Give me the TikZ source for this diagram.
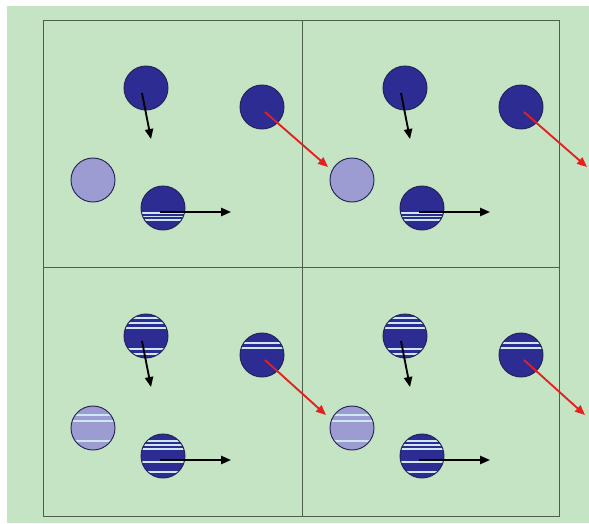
\documentclass[tikz,border=0pt]{standalone}
\usepackage{tikz}
\usepackage{xcolor}
\usetikzlibrary{arrows.meta}
\definecolor{fieldgreen}{RGB}{196,228,196}
\definecolor{gridgray}{RGB}{75,95,75}
\definecolor{ballblue}{RGB}{44,44,146}
\definecolor{ballpale}{RGB}{156,156,210}
\definecolor{balledge}{RGB}{35,35,85}
\definecolor{stripecol}{RGB}{205,232,242}
\definecolor{hitred}{RGB}{228,32,32}

\begin{document}
\begin{tikzpicture}[x=0.03cm, y=-0.03cm,
    ball/.style={circle, draw=balledge, fill=ballblue, line width=0.8pt,
                 minimum size=1.32cm, inner sep=0pt},
    faded/.style={ball, fill=ballpale},
    stripes/.style={path picture={
        \foreach \s/\w in {#1}
          \draw[stripecol, line width=\w]
            ([shift={(0,\s)}]path picture bounding box.west) --
            ([shift={(0,\s)}]path picture bounding box.east);}},
    move/.style={-{Triangle[length=8.5pt, width=7pt]}, line width=1.6pt, black},
    hit/.style={move, hitred},
    grid/.style={draw=gridgray, line width=0.6pt}
  ]
    \useasboundingbox (0,0) rectangle (589,523);
    \fill[white] (0,0) rectangle (589,523);
    \fill[fieldgreen] (7,6) rectangle (589,523);

    % the four frames
    \draw[grid] (43,20) rectangle (559,516);
    \draw[grid] (302,20) -- (302,516);
    \draw[grid] (43,267) -- (559,267);

    % top row
    \foreach \c/\dx in {1/0, 2/259} {
      \begin{scope}[shift={(\dx,0)}]
        \node[ball] (up\c) at (146,88) {};
        \node[ball] (edge\c) at (262,107) {};
        \node[faded] (rest\c) at (93,180) {};
        \node[ball, stripes={5/0.9pt, 8.5/0.9pt, 12/0.9pt}] (low\c) at (163,208) {};
        \coordinate (uptip\c) at (151,139);
        \coordinate (lowtip\c) at (231,212);
        \coordinate (edgetip\c) at (328,167);
        \draw[move] ([shift={(-4,5)}]up\c.center) -- (uptip\c);
        \draw[move] ([shift={(-3,4)}]low\c.center) -- (lowtip\c);
        \draw[hit] ([shift={(3,5)}]edge\c.center) -- (edgetip\c);
      \end{scope}
    }

    % bottom row
    \foreach \c/\dx in {1/0, 2/259} {
      \begin{scope}[shift={(\dx,248)}]
        \node[ball, stripes={-18/0.9pt, -13/0.9pt, -8/0.9pt, 13/2.2pt, 18/0.9pt}] (upb\c) at (146,88) {};
        \node[ball, stripes={-12/0.9pt, -7/0.9pt}] (edgeb\c) at (262,107) {};
        \node[faded, stripes={-13/0.9pt, -7/0.9pt, 13/2pt}] (restb\c) at (93,180) {};
        \node[ball, stripes={-15/0.9pt, -11/0.9pt, -7/0.9pt, 6/0.9pt, 16/0.9pt}] (lowb\c) at (163,208) {};
        \coordinate (uptipb\c) at (151,139);
        \coordinate (lowtipb\c) at (231,212);
        \coordinate (edgetipb\c) at (326,167);
        \draw[move] ([shift={(-4,5)}]upb\c.center) -- (uptipb\c);
        \draw[move] ([shift={(-3,4)}]lowb\c.center) -- (lowtipb\c);
        \draw[hit] ([shift={(3,5)}]edgeb\c.center) -- (edgetipb\c);
      \end{scope}
    }
\end{tikzpicture}
\end{document}
